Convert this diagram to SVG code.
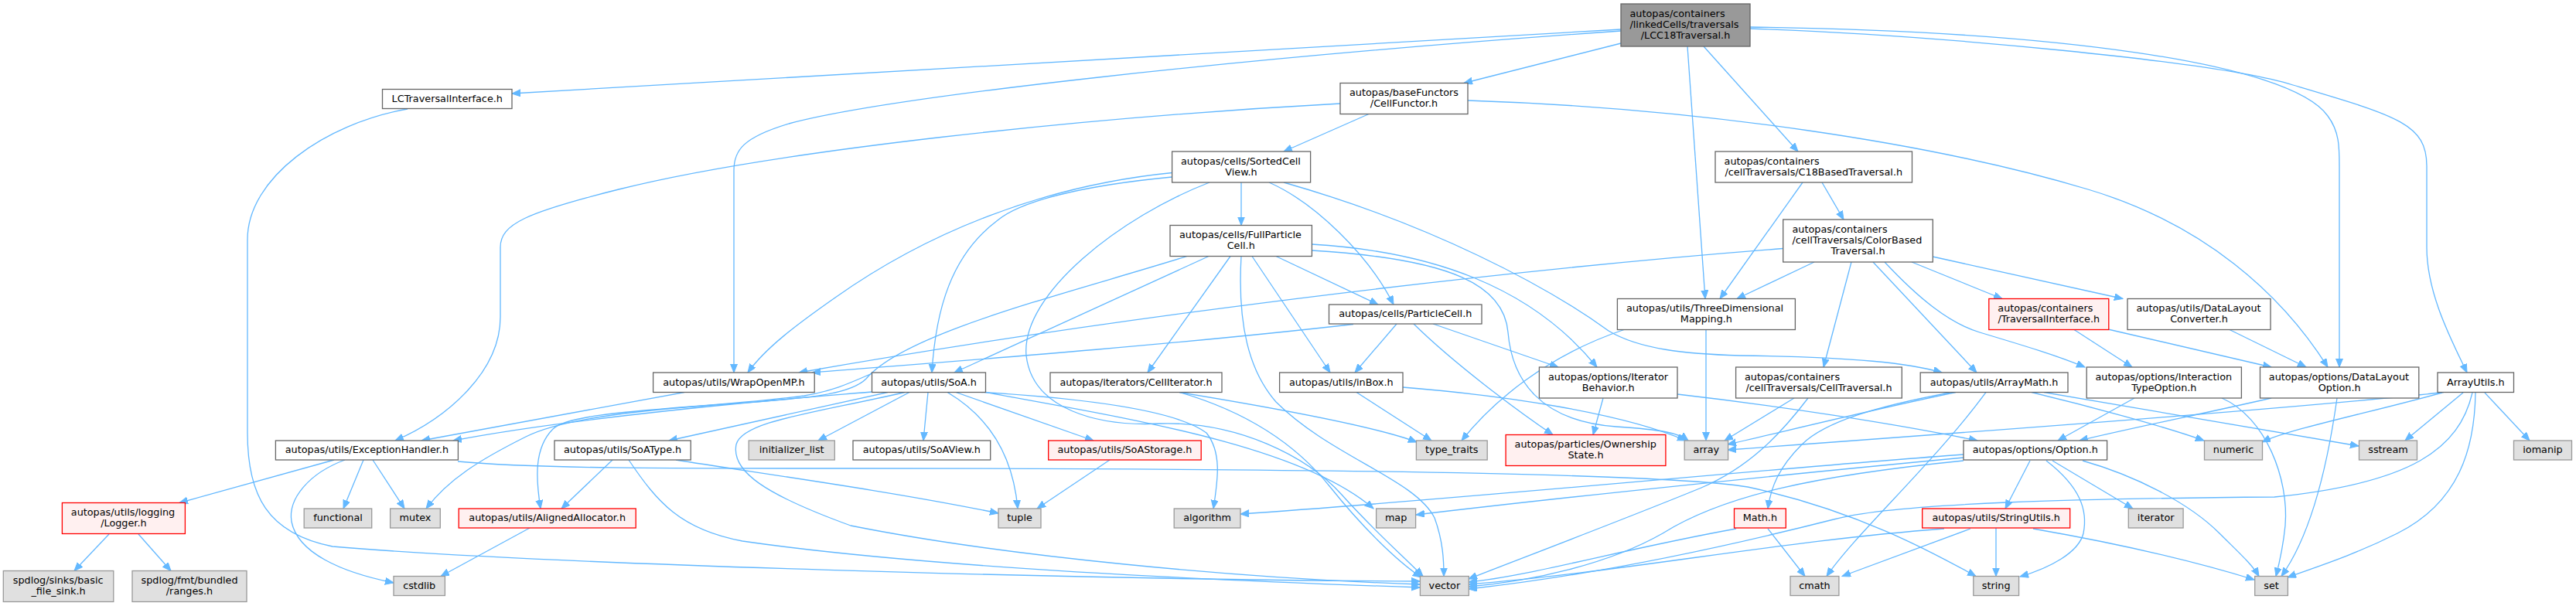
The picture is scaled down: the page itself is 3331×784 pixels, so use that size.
<svg xmlns="http://www.w3.org/2000/svg" width="3331" height="784" viewBox="0 0 3331 784">
<defs>
<marker id="ah" markerWidth="12" markerHeight="10" refX="11" refY="4.5" orient="auto" markerUnits="userSpaceOnUse"><path d="M0,0 L11,4.5 L0,9 z" fill="#63b8ff" stroke="#63b8ff" stroke-width="1"/></marker>
<style>
.e path{fill:none;stroke:#63b8ff;stroke-width:1.3;marker-end:url(#ah)}
.w rect{fill:#ffffff;stroke:#666666;stroke-width:1.3}
.g rect{fill:#e0e0e0;stroke:#999999;stroke-width:1.3}
.r rect{fill:#fff0f0;stroke:#ff0000;stroke-width:1.3}
.m rect{fill:#999999;stroke:#666666;stroke-width:1.3}
text{font-family:"DejaVu Sans","Liberation Sans",sans-serif;font-size:12.8px;fill:#000000}
.c{text-anchor:middle}
</style>
</defs>
<rect x="0" y="0" width="3331" height="784" fill="#ffffff"/>
<g id="edges" class="e">
<path d="M2096,38 L662,121"/>
<path d="M2096,40 C1600,75 1150,125 1020,160 C960,178 949,195 949,220 L949,482"/>
<path d="M2096,56 L1893,107.5"/>
<path d="M2182,60 L2205,386.5"/>
<path d="M2203,60 L2325,196"/>
<path d="M2263,35 C2650,40 2960,80 3010,150 C3025,170 3025,190 3025,215 L3025,475"/>
<path d="M2263,37 C2500,45 2870,80 2965,110 C3100,150 3138,160 3138,215 L3138,320 C3138,380 3170,440 3190,482"/>
<path d="M527,141 C420,160 320,230 320,310 L320,560 C320,640 345,690 430,707 C700,730 1400,750 1836,752"/>
<path d="M1770,147.5 L1660,196"/>
<path d="M1733,134 C1400,152 1000,195 800,245 C680,275 647,290 647,320 L647,410 C647,480 580,540 511,570"/>
<path d="M1898,130 C2200,140 2500,185 2700,245 C2850,290 2950,380 3010,475"/>
<path d="M1605,236 L1605,291.5"/>
<path d="M1641,236 C1700,262 1770,330 1802,394"/>
<path d="M1515.6,223.5 C1350,240 1200,300 1080,385 C1030,420 990,450 967,482"/>
<path d="M1515.6,229 C1400,240 1320,260 1290,285 C1230,330 1210,400 1205,482"/>
<path d="M1564,236 C1450,280 1320,380 1327,460 C1335,530 1420,552 1500,548 C1600,545 1690,590 1735,640 C1775,685 1815,720 1840,745.5"/>
<path d="M1660,236 C1850,290 2000,370 2080,428 C2120,452 2180,458 2250,460 C2400,462 2470,470 2511,482"/>
<path d="M1535,331.5 C1380,380 1170,430 1120,490 C1100,510 1050,515 950,522 C800,532 720,545 680,565 C620,595 580,620 551,658"/>
<path d="M1563,331.5 L1234,482"/>
<path d="M1591,331.5 L1484,482"/>
<path d="M1605,331.5 C1600,420 1615,480 1650,520 C1720,590 1830,620 1855,670 C1866,700 1867,725 1867,745.5"/>
<path d="M1619,331.5 L1720,482"/>
<path d="M1650,331.5 L1782,394"/>
<path d="M1696,316 C1850,325 1980,370 2065,475"/>
<path d="M1696,324 C1880,335 1945,370 1950,430 C1955,490 1990,545 2090,552 C2150,556 2170,560 2183,570"/>
<path d="M1750,419.5 C1500,448 1200,470 1050,482"/>
<path d="M1806,419 L1752,482"/>
<path d="M1828,419 C1880,470 1960,530 2008,562.5"/>
<path d="M1853,419 L2015,475"/>
<path d="M2206,426.5 L2206,570"/>
<path d="M2100,426.5 C2000,460 1930,520 1890,570"/>
<path d="M2682,426.5 L2757,475"/>
<path d="M2726,426 L2937,475"/>
<path d="M2883,426.5 L2982,475"/>
<path d="M2305.7,321.5 C2000,345 1500,400 1033,482"/>
<path d="M2346,339 L2246,386.5"/>
<path d="M2394,339 L2358,475"/>
<path d="M2422,339 L2556,482"/>
<path d="M2437,339 C2480,385 2520,418 2560,430 C2620,448 2660,460 2696,475"/>
<path d="M2472,339 L2589,386.5"/>
<path d="M2499,332 L2745,386.5"/>
<path d="M2331,236 L2224,386.5"/>
<path d="M2356,236 L2384,284"/>
<path d="M885,507.5 L545,570"/>
<path d="M1128,507 C900,525 700,548 586,570"/>
<path d="M1148,507.5 L865,570"/>
<path d="M1176,507.5 L1058,570"/>
<path d="M1130,482 C1100,495 1080,505 1040,512 C900,530 740,530 715,555 C690,580 693,620 699,658"/>
<path d="M1200,507.5 L1194,570"/>
<path d="M1225,507.5 C1280,540 1310,590 1316,658"/>
<path d="M1236,507.5 L1414,570"/>
<path d="M1170,507.5 C1050,535 960,545 952,575 C945,610 990,640 1100,680 C1300,720 1600,748 1836,756"/>
<path d="M1272,507 C1450,540 1680,575 1776,658"/>
<path d="M1262,507 C1400,515 1520,530 1560,560 C1580,585 1575,620 1569,658"/>
<path d="M1525,507.5 C1650,528 1780,552 1832,572"/>
<path d="M1525,507.5 C1620,535 1680,580 1720,630 C1760,680 1805,725 1838,747"/>
<path d="M1754,507.5 L1851,570"/>
<path d="M1814,501 C1950,512 2100,535 2180,570"/>
<path d="M2073,515 L2060,562.5"/>
<path d="M2169,510 C2300,525 2450,548 2557,570"/>
<path d="M2320,515 L2230,570"/>
<path d="M2338,515 C2300,565 2260,605 2200,631 C2100,672 1960,725 1899,749"/>
<path d="M2529,507.5 C2420,530 2300,560 2234,575"/>
<path d="M2521,508 C2430,525 2360,545 2330,575 C2300,605 2290,630 2286,658"/>
<path d="M2568,507.5 C2500,600 2400,690 2362,745.5"/>
<path d="M2627,507.5 C2700,525 2800,552 2850,570"/>
<path d="M2643,507.5 C2800,535 2950,560 3050,577"/>
<path d="M2760,515 L2661,570"/>
<path d="M2873,515 C2930,540 2960,620 2955,680 C2952,710 2947,730 2943,745.5"/>
<path d="M2937,515 C2850,535 2750,555 2689,570"/>
<path d="M3022,515 C3010,600 2990,690 2950,745.5"/>
<path d="M3160,507.5 C3000,525 2700,548 2234,582"/>
<path d="M3158,508 C3060,535 2960,555 2925,572"/>
<path d="M3185,508 L3110,570"/>
<path d="M3213,508 L3271,570"/>
<path d="M3197,508 C3180,580 3120,625 2941,643 C2700,645 2450,650 2371,672 C2300,690 2100,740 1899,762"/>
<path d="M3201,508 C3200,580 3180,650 3100,690 C3040,720 2990,735 2958,747"/>
<path d="M2539,588 C2300,605 1900,645 1604,665"/>
<path d="M2539,592 C2350,610 2050,640 1831,666"/>
<path d="M2539,596 C2350,615 2230,640 2150,690 C2080,730 1980,752 1899,759"/>
<path d="M2625,596 L2593,658"/>
<path d="M2646,596 C2690,630 2700,660 2694,690 C2688,715 2650,735 2612,746"/>
<path d="M2654,596 L2758,658"/>
<path d="M2693,596 C2760,615 2830,650 2870,690 C2895,715 2912,730 2921,745.5"/>
<path d="M2514,684 C2300,700 2100,740 1899,756"/>
<path d="M2548,684 L2382,745.5"/>
<path d="M2581,683 L2581,745.5"/>
<path d="M2629,684 C2750,705 2850,730 2915,750"/>
<path d="M2245,684 C2100,710 1980,745 1899,753"/>
<path d="M2286,684 L2334,745.5"/>
<path d="M432,595 L232,650.5"/>
<path d="M446,595 C400,612 372,645 377,675 C385,715 440,740 509,754"/>
<path d="M470,595 L444,658"/>
<path d="M482,595 L523,658"/>
<path d="M592,597 C700,607 900,606 1100,606 C1700,606 2150,612 2260,630 C2400,660 2500,715 2555,745.5"/>
<path d="M141,691 L96,738.5"/>
<path d="M179,691 L221,738.5"/>
<path d="M792,595 L726,658"/>
<path d="M874,595 C980,612 1150,635 1291,664"/>
<path d="M813,595 C850,650 880,685 960,700 C1200,735 1600,752 1836,760"/>
<path d="M685,683 L570,745.5"/>
<path d="M1435,595 L1341,658"/>
</g>
<g id="nodes">
<g id="n_main" class="m"><rect x="2096" y="5" width="167" height="55"/><text x="2107.5" y="22">autopas/containers</text><text x="2107.5" y="36">/linkedCells/traversals</text><text class="c" x="2179.5" y="50">/LCC18Traversal.h</text></g>
<g id="n_lcti" class="w"><rect x="494.5" y="115.5" width="167.5" height="25"/><text class="c" x="578.3" y="131.5">LCTraversalInterface.h</text></g>
<g id="n_cf" class="w"><rect x="1733" y="107.5" width="165" height="40"/><text x="1745" y="124">autopas/baseFunctors</text><text class="c" x="1815.5" y="138">/CellFunctor.h</text></g>
<g id="n_scv" class="w"><rect x="1515.6" y="196" width="179" height="40"/><text x="1527" y="212.5">autopas/cells/SortedCell</text><text class="c" x="1605" y="226.5">View.h</text></g>
<g id="n_c18" class="w"><rect x="2218" y="196" width="254.5" height="40"/><text x="2229.6" y="212.5">autopas/containers</text><text class="c" x="2345.3" y="226.5">/cellTraversals/C18BasedTraversal.h</text></g>
<g id="n_fpc" class="w"><rect x="1513" y="291.5" width="183.4" height="40"/><text x="1525" y="308">autopas/cells/FullParticle</text><text class="c" x="1604.7" y="322">Cell.h</text></g>
<g id="n_cbt" class="w"><rect x="2305.7" y="284" width="193.6" height="55"/><text x="2317.5" y="301">autopas/containers</text><text x="2317.5" y="315">/cellTraversals/ColorBased</text><text class="c" x="2402.5" y="329">Traversal.h</text></g>
<g id="n_pc" class="w"><rect x="1718.5" y="394" width="197.5" height="25"/><text class="c" x="1817.3" y="410">autopas/cells/ParticleCell.h</text></g>
<g id="n_tdm" class="w"><rect x="2091.4" y="386.5" width="230" height="40"/><text x="2103" y="403">autopas/utils/ThreeDimensional</text><text class="c" x="2206.4" y="417">Mapping.h</text></g>
<g id="n_ti" class="r"><rect x="2571.8" y="386.5" width="155" height="40"/><text x="2583.3" y="403">autopas/containers</text><text class="c" x="2649.3" y="417">/TraversalInterface.h</text></g>
<g id="n_dlc" class="w"><rect x="2751" y="386.5" width="185" height="40"/><text x="2762.5" y="403">autopas/utils/DataLayout</text><text class="c" x="2843.5" y="417">Converter.h</text></g>
<g id="n_womp" class="w"><rect x="844.6" y="482" width="208.6" height="25.5"/><text class="c" x="948.9" y="498.5">autopas/utils/WrapOpenMP.h</text></g>
<g id="n_soa" class="w"><rect x="1127.5" y="482" width="147" height="25.5"/><text class="c" x="1201" y="498.5">autopas/utils/SoA.h</text></g>
<g id="n_ci" class="w"><rect x="1358" y="482" width="222" height="25.5"/><text class="c" x="1469" y="498.5">autopas/iterators/CellIterator.h</text></g>
<g id="n_inbox" class="w"><rect x="1654.6" y="482" width="159.4" height="25.5"/><text class="c" x="1734.3" y="498.5">autopas/utils/inBox.h</text></g>
<g id="n_ib" class="w"><rect x="1990.4" y="475" width="178.6" height="40"/><text x="2002" y="491.5">autopas/options/Iterator</text><text class="c" x="2079.7" y="505.5">Behavior.h</text></g>
<g id="n_ct" class="w"><rect x="2244.6" y="475" width="214.7" height="40"/><text x="2256" y="491.5">autopas/containers</text><text class="c" x="2352" y="505.5">/cellTraversals/CellTraversal.h</text></g>
<g id="n_am" class="w"><rect x="2483.2" y="482" width="190.8" height="25.5"/><text class="c" x="2578.6" y="498.5">autopas/utils/ArrayMath.h</text></g>
<g id="n_ito" class="w"><rect x="2698.2" y="475" width="200.2" height="40"/><text x="2709.5" y="491.5">autopas/options/Interaction</text><text class="c" x="2798.3" y="505.5">TypeOption.h</text></g>
<g id="n_dlo" class="w"><rect x="2922.5" y="475" width="205.3" height="40"/><text x="2933.8" y="491.5">autopas/options/DataLayout</text><text class="c" x="3025.2" y="505.5">Option.h</text></g>
<g id="n_au" class="w"><rect x="3152" y="482" width="98.5" height="25.5"/><text class="c" x="3201.3" y="498.5">ArrayUtils.h</text></g>
<g id="n_eh" class="w"><rect x="356.4" y="570" width="236" height="25"/><text class="c" x="474.4" y="586">autopas/utils/ExceptionHandler.h</text></g>
<g id="n_soat" class="w"><rect x="717" y="570" width="176.2" height="25"/><text class="c" x="805.1" y="586">autopas/utils/SoAType.h</text></g>
<g id="n_il" class="g"><rect x="968.2" y="570" width="111.1" height="25"/><text class="c" x="1023.7" y="586">initializer_list</text></g>
<g id="n_soav" class="w"><rect x="1103" y="570" width="177.7" height="25"/><text class="c" x="1191.8" y="586">autopas/utils/SoAView.h</text></g>
<g id="n_soas" class="r"><rect x="1355.7" y="570" width="197.5" height="25"/><text class="c" x="1454.5" y="586">autopas/utils/SoAStorage.h</text></g>
<g id="n_tt" class="g"><rect x="1831.4" y="570" width="91.8" height="25"/><text class="c" x="1877.3" y="586">type_traits</text></g>
<g id="n_os" class="r"><rect x="1947.1" y="562.5" width="206.8" height="40"/><text x="1958.6" y="579">autopas/particles/Ownership</text><text class="c" x="2050.5" y="593">State.h</text></g>
<g id="n_arr" class="g"><rect x="2178.2" y="570" width="56.4" height="25"/><text class="c" x="2206.4" y="586">array</text></g>
<g id="n_opt" class="w"><rect x="2539" y="570" width="185.6" height="25"/><text class="c" x="2631.8" y="586">autopas/options/Option.h</text></g>
<g id="n_num" class="g"><rect x="2850.5" y="570" width="75" height="25"/><text class="c" x="2888" y="586">numeric</text></g>
<g id="n_ss" class="g"><rect x="3050.5" y="570" width="75" height="25"/><text class="c" x="3088" y="586">sstream</text></g>
<g id="n_iom" class="g"><rect x="3250.5" y="570" width="75" height="25"/><text class="c" x="3288" y="586">iomanip</text></g>
<g id="n_log" class="r"><rect x="80.4" y="650.5" width="159" height="40"/><text x="91.8" y="667">autopas/utils/logging</text><text class="c" x="159.9" y="681">/Logger.h</text></g>
<g id="n_func" class="g"><rect x="393.2" y="658" width="87.5" height="25"/><text class="c" x="437" y="674">functional</text></g>
<g id="n_mutex" class="g"><rect x="504.6" y="658" width="64.7" height="25"/><text class="c" x="537" y="674">mutex</text></g>
<g id="n_aa" class="r"><rect x="593.2" y="658" width="229" height="25"/><text class="c" x="707.7" y="674">autopas/utils/AlignedAllocator.h</text></g>
<g id="n_tuple" class="g"><rect x="1291" y="658" width="55" height="25"/><text class="c" x="1318.5" y="674">tuple</text></g>
<g id="n_alg" class="g"><rect x="1518.2" y="658" width="85.8" height="25"/><text class="c" x="1561.1" y="674">algorithm</text></g>
<g id="n_map" class="g"><rect x="1779.6" y="658" width="51" height="25"/><text class="c" x="1805.1" y="674">map</text></g>
<g id="n_math" class="r"><rect x="2242.5" y="658" width="66.8" height="25"/><text class="c" x="2275.9" y="674">Math.h</text></g>
<g id="n_su" class="r"><rect x="2485.7" y="658" width="191" height="25"/><text class="c" x="2581.2" y="674">autopas/utils/StringUtils.h</text></g>
<g id="n_iter" class="g"><rect x="2752.3" y="658" width="70.8" height="25"/><text class="c" x="2787.7" y="674">iterator</text></g>
<g id="n_sfs" class="g"><rect x="4.3" y="738.5" width="142.5" height="40"/><text x="16.8" y="754.5">spdlog/sinks/basic</text><text class="c" x="75.5" y="768.5">_file_sink.h</text></g>
<g id="n_fmt" class="g"><rect x="171" y="738.5" width="148" height="40"/><text x="182.5" y="754.5">spdlog/fmt/bundled</text><text class="c" x="245" y="768.5">/ranges.h</text></g>
<g id="n_cstd" class="g"><rect x="509" y="745.5" width="66.4" height="25"/><text class="c" x="542.2" y="761.5">cstdlib</text></g>
<g id="n_vec" class="g"><rect x="1836.4" y="745.5" width="62.9" height="25"/><text class="c" x="1867.9" y="761.5">vector</text></g>
<g id="n_cmath" class="g"><rect x="2315" y="745.5" width="62.9" height="25"/><text class="c" x="2346.5" y="761.5">cmath</text></g>
<g id="n_str" class="g"><rect x="2551.8" y="745.5" width="58.8" height="25"/><text class="c" x="2581.2" y="761.5">string</text></g>
<g id="n_set" class="g"><rect x="2915.7" y="745.5" width="42.7" height="25"/><text class="c" x="2937" y="761.5">set</text></g>
</g>
</svg>
